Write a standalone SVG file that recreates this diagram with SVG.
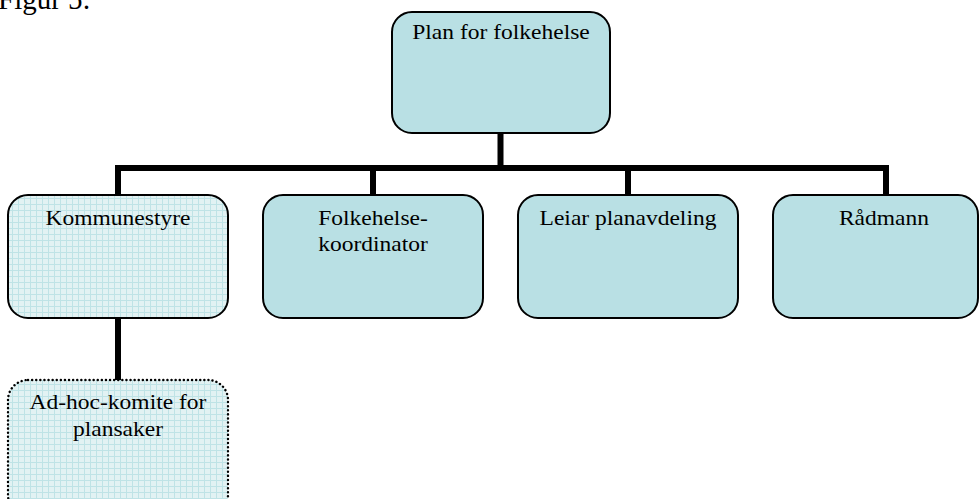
<svg xmlns="http://www.w3.org/2000/svg" width="979" height="499" viewBox="0 0 979 499">
<style>
.box{fill:#b9e0e4;stroke:#000;stroke-width:2}
.grid{fill:url(#gridfill);stroke:#000;stroke-width:2}
.dot{stroke-width:2.4;stroke-dasharray:0.1 4;stroke-linecap:round}
.t{font-family:"Liberation Serif","Times New Roman",serif;font-size:21px;fill:#000;text-anchor:middle}
.conn{fill:none;stroke:#000;stroke-width:6}
</style>
<defs>
<pattern id="gridfill" width="6" height="6" patternUnits="userSpaceOnUse">
<rect width="6" height="6" fill="#e2f2f3"/>
<path d="M0 0.5H6M0.5 0V6" stroke="#bfe3e6" stroke-width="1"/>
</pattern>
</defs>
<text x="-2" y="9" style="font-family:'Liberation Serif','Times New Roman',serif;font-size:29px">Figur 5:</text>
<g id="connectors">
<path class="conn" d="M500.5 133V168M118 198V168H886V198M373 168V198M628 168V198"/>
<path class="conn" d="M118 318V381"/>
</g>
<g id="plan">
<rect class="box" x="392" y="12" width="218" height="121" rx="20"/>
<text class="t" x="501" y="39" transform="translate(501 0) scale(1.12 1) translate(-501 0)">Plan for folkehelse</text>
</g>
<g id="kommunestyre">
<rect class="grid" x="8" y="195" width="220" height="123" rx="20"/>
<text class="t" x="118" y="225" transform="translate(118 0) scale(1.12 1) translate(-118 0)">Kommunestyre</text>
</g>
<g id="folkehelsekoordinator">
<rect class="box" x="263" y="195" width="220" height="123" rx="20"/>
<text class="t" x="373" y="225" transform="translate(373 0) scale(1.12 1) translate(-373 0)">Folkehelse-</text>
<text class="t" x="373" y="251" transform="translate(373 0) scale(1.12 1) translate(-373 0)">koordinator</text>
</g>
<g id="leiar">
<rect class="box" x="518" y="195" width="220" height="123" rx="20"/>
<text class="t" x="628" y="225" transform="translate(628 0) scale(1.12 1) translate(-628 0)">Leiar planavdeling</text>
</g>
<g id="radmann">
<rect class="box" x="773" y="195" width="205" height="123" rx="20"/>
<text class="t" x="884" y="225" transform="translate(884 0) scale(1.12 1) translate(-884 0)">Rådmann</text>
</g>
<g id="adhoc">
<rect class="grid dot" x="8" y="380" width="220" height="135" rx="20"/>
<text class="t" x="118" y="409" transform="translate(118 0) scale(1.12 1) translate(-118 0)">Ad-hoc-komite for</text>
<text class="t" x="118" y="436" transform="translate(118 0) scale(1.12 1) translate(-118 0)">plansaker</text>
</g>
</svg>
